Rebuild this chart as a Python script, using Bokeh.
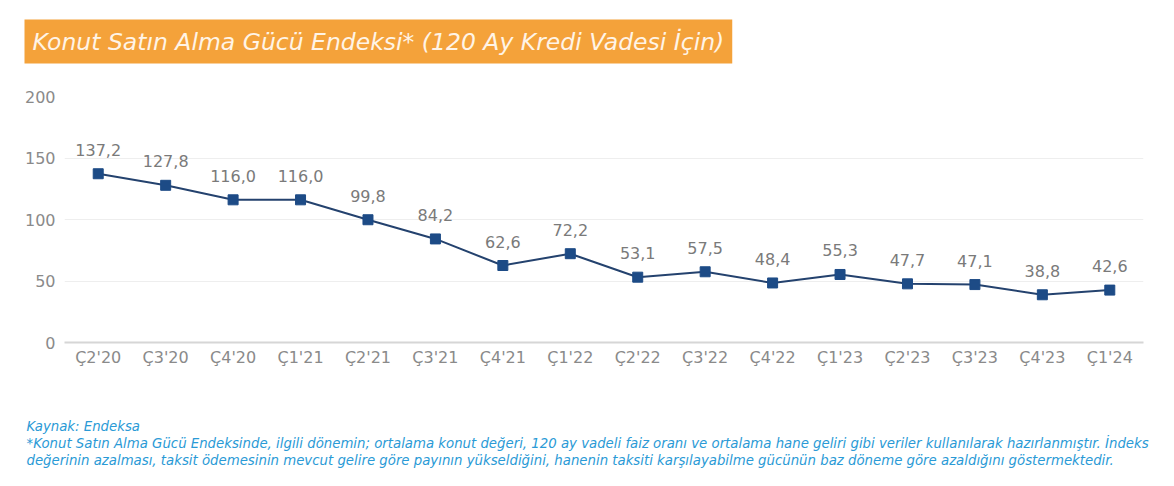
from bokeh.plotting import figure
from bokeh.models import ColumnDataSource, Title, FactorRange, FixedTicker
from bokeh.core.properties import value
from bokeh.embed import file_html
from bokeh.resources import INLINE

quarters = ["Ç2'20", "Ç3'20", "Ç4'20", "Ç1'21", "Ç2'21", "Ç3'21", "Ç4'21", "Ç1'22",
            "Ç2'22", "Ç3'22", "Ç4'22", "Ç1'23", "Ç2'23", "Ç3'23", "Ç4'23", "Ç1'24"]
index_values = [137.2, 127.8, 116.0, 116.0, 99.8, 84.2, 62.6, 72.2,
                53.1, 57.5, 48.4, 55.3, 47.7, 47.1, 38.8, 42.6]
y_ticks = [0, 50, 100, 150, 200]

title_text = "Konut Satın Alma Gücü Endeksi* (120 Ay Kredi Vadesi İçin)"
source_text = "Kaynak: Endeksa"
note_line1 = ("*Konut Satın Alma Gücü Endeksinde, ilgili dönemin; ortalama konut değeri, 120 ay vadeli faiz oranı "
              "ve ortalama hane geliri gibi veriler kullanılarak hazırlanmıştır. İndeks")
note_line2 = ("değerinin azalması, taksit ödemesinin mevcut gelire göre payının yükseldiğini, hanenin taksiti "
              "karşılayabilme gücünün baz döneme göre azaldığını göstermektedir.")

FONT = "DejaVu Sans"
W, H = 1158, 470
LEFT, RIGHT, TOP, BOTTOM = 64, 15, 96, 128

src = ColumnDataSource(dict(q=quarters, v=index_values,
                            lab=[f"{v:.1f}".replace(".", ",") for v in index_values]))

p = figure(width=W, height=H, x_range=FactorRange(*quarters, range_padding=0),
           y_range=(0, 200), output_backend="svg", toolbar_location=None,
           min_border_left=LEFT, min_border_right=RIGHT, min_border_top=TOP,
           min_border_bottom=BOTTOM)
p.outline_line_color = None
p.background_fill_color = "white"
p.border_fill_color = "white"

p.xgrid.grid_line_color = None
p.ygrid.grid_line_color = "#eeeeee"
p.ygrid.grid_line_width = 1

p.yaxis.ticker = FixedTicker(ticks=y_ticks)
p.yaxis.axis_line_color = None
p.yaxis.major_tick_line_color = None
p.yaxis.minor_tick_line_color = None
p.yaxis.major_tick_out = 0
p.yaxis.major_label_standoff = 9
p.yaxis.major_label_text_font = FONT
p.yaxis.major_label_text_font_size = "16px"
p.yaxis.major_label_text_color = "#8a8a8a"

p.xaxis.axis_line_color = "#d6d6d6"
p.xaxis.axis_line_width = 2
p.xaxis.major_tick_line_color = None
p.xaxis.major_tick_out = 0
p.xaxis.major_label_standoff = 5
p.xaxis.major_label_text_font = FONT
p.xaxis.major_label_text_font_size = "16px"
p.xaxis.major_label_text_color = "#8a8a8a"

p.line("q", "v", source=src, line_color="#24426e", line_width=2)
p.scatter("q", "v", source=src, marker="square", size=10, fill_color="#1d4b86",
          line_color="#1d4b86")
p.text("q", "v", text="lab", source=src, y_offset=-24, text_align="center",
       text_baseline="middle", text_font=value(FONT), text_font_size="16px",
       text_color="#7a7a7a")

# above: spacer nearest the frame, then the orange title banner
p.add_layout(Title(text=" ", align="left", standoff=30, text_font_size="1px"), "above")
p.add_layout(Title(text=title_text, align="left", offset=-40, standoff=0,
                   text_font=FONT, text_font_style="italic", text_font_size="23.5px",
                   text_color="#fff4e6", background_fill_color="#f4a23a",
                   padding=8), "above")

# footer (spacer first, then lines stacked downward)
foot = dict(align="left", offset=-38, standoff=0, text_font=FONT, text_font_style="italic",
            text_font_size="13.3px", text_color="#2a9ad6")
p.add_layout(Title(text=" ", align="left", standoff=44, text_font_size="1px"), "below")
p.add_layout(Title(text=source_text, **foot), "below")
p.add_layout(Title(text=note_line1, **foot), "below")
p.add_layout(Title(text=note_line2, **foot), "below")

open("out.html", "w").write(file_html(p, INLINE))
